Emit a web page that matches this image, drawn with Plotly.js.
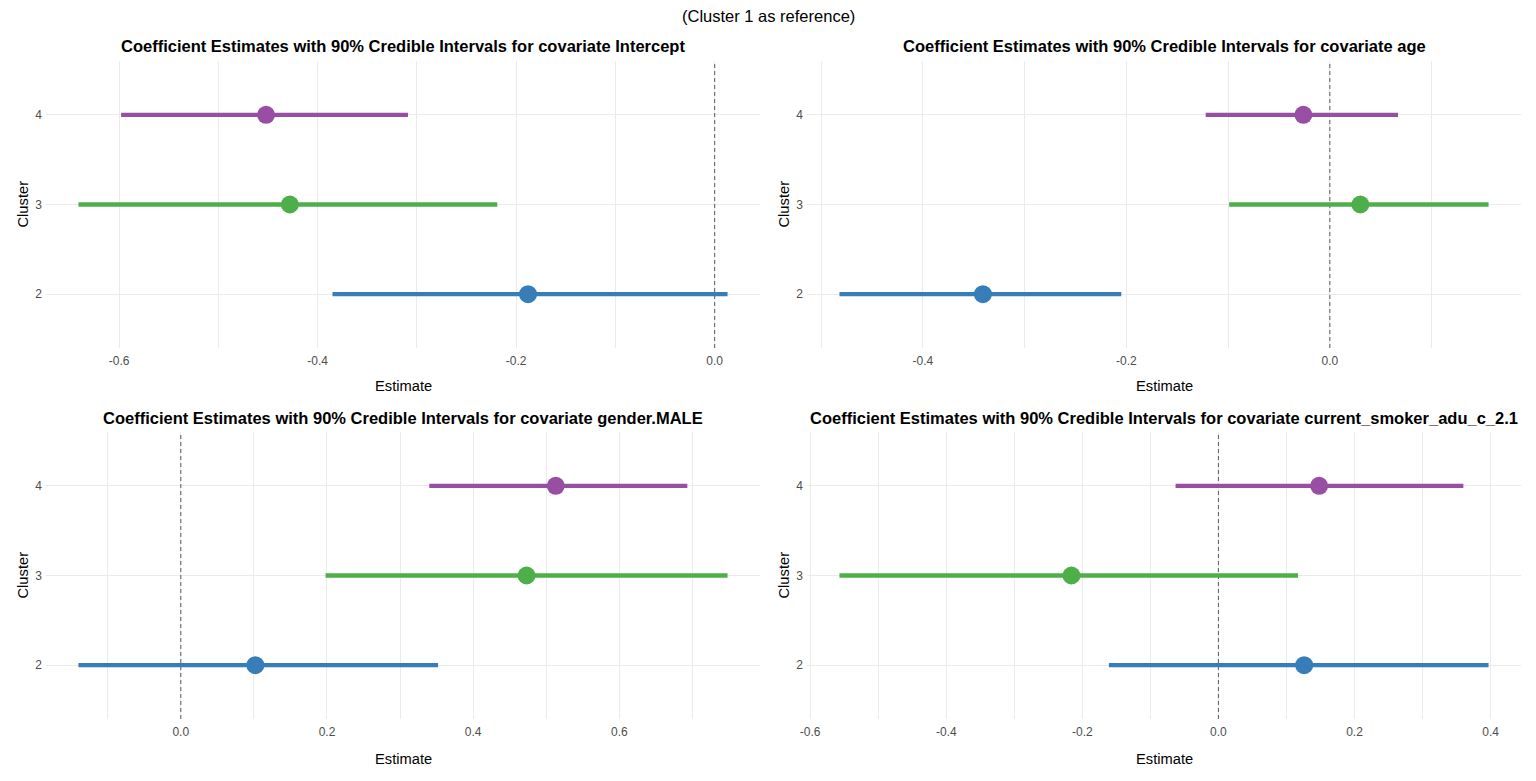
<!DOCTYPE html>
<html>
<head>
<meta charset="utf-8">
<script src="https://cdn.plot.ly/plotly-3.0.1.min.js"></script>
<style>html,body{margin:0;padding:0;background:#fff}#chart{width:1536px;height:781px}</style>
</head>
<body>
<div id="chart"></div>
<script>
// ---- data ----
const clusters = [2, 3, 4];
const clusterColors = ['#377EB8', '#4DAF4A', '#984EA3'];
const covariates = ['Intercept', 'age', 'gender.MALE', 'current_smoker_adu_c_2.1'];

const estIntercept = [-0.188, -0.428, -0.452];
const loIntercept  = [-0.385, -0.641, -0.598];
const hiIntercept  = [ 0.013, -0.219, -0.309];

const estAge = [-0.341, 0.030, -0.026];
const loAge  = [-0.482, -0.099, -0.122];
const hiAge  = [-0.205, 0.156, 0.067];

const estGender = [0.102, 0.473, 0.513];
const loGender  = [-0.140, 0.198, 0.340];
const hiGender  = [0.352, 0.748, 0.693];

const estSmoker = [0.126, -0.216, 0.148];
const loSmoker  = [-0.161, -0.557, -0.063];
const hiSmoker  = [0.397, 0.117, 0.360];

const referenceValue = 0;

const panels = [
  {est: estIntercept, lo: loIntercept, hi: hiIntercept},
  {est: estAge, lo: loAge, hi: hiAge},
  {est: estGender, lo: loGender, hi: hiGender},
  {est: estSmoker, lo: loSmoker, hi: hiSmoker}
];

// ---- layout geometry ----
const W = 1536, H = 781;
const xDomains = [[46/W, 760/W], [807/W, 1521/W], [46/W, 760/W], [807/W, 1521/W]];
const yDomains = [[1-348/H, 1-61/H], [1-348/H, 1-61/H], [1-719/H, 1-432/H], [1-719/H, 1-432/H]];
const yRange = [Math.min(...clusters) - 0.6, Math.max(...clusters) + 0.6];
const FONT = 'Liberation Sans, Arial, sans-serif';
const GRID = '#EBEBEB';

const traces = [];
const layout = {
  width: W, height: H,
  margin: {l: 0, r: 0, t: 0, b: 0},
  paper_bgcolor: '#fff', plot_bgcolor: '#fff',
  showlegend: false,
  font: {family: FONT, color: '#000'},
  annotations: []
};

panels.forEach((p, i) => {
  const n = i + 1;
  const xa = n === 1 ? 'x' : 'x' + n;
  const ya = n === 1 ? 'y' : 'y' + n;
  const xk = n === 1 ? 'xaxis' : 'xaxis' + n;
  const yk = n === 1 ? 'yaxis' : 'yaxis' + n;

  // ggplot-like 5% expansion of the data range (including the reference line)
  const mn = Math.min(referenceValue, ...p.lo), mx = Math.max(referenceValue, ...p.hi);
  const pad = (mx - mn) * 0.05;
  const r0 = mn - pad, r1 = mx + pad;

  // major ticks every 0.2 inside the range, labelled with a plain hyphen
  const tv = [];
  for (let k = Math.ceil(r0 / 0.2 - 1e-9); k * 0.2 <= r1 + 1e-9; k++) tv.push(+(k * 0.2).toFixed(1));
  const tt = tv.map(v => (v < 0 ? '-' : '') + Math.abs(v).toFixed(1));

  // dashed reference line at zero (drawn first, under the intervals)
  traces.push({
    type: 'scatter', mode: 'lines', xaxis: xa, yaxis: ya,
    x: [referenceValue, referenceValue], y: yRange,
    line: {color: '#666666', width: 1.1, dash: '4px,3px'}, hoverinfo: 'skip'
  });

  clusters.forEach((c, j) => {
    traces.push({
      type: 'scatter', mode: 'lines', xaxis: xa, yaxis: ya,
      x: [p.lo[j], p.hi[j]], y: [c, c],
      line: {color: clusterColors[j], width: 4.3}, hoverinfo: 'skip'
    });
  });
  traces.push({
    type: 'scatter', mode: 'markers', xaxis: xa, yaxis: ya,
    x: p.est, y: clusters,
    marker: {color: clusterColors, size: 18, line: {width: 0}}
  });

  layout[xk] = {
    domain: xDomains[i], anchor: ya, range: [r0, r1],
    tickmode: 'array', tickvals: tv, ticktext: tt,
    showgrid: true, gridcolor: GRID, gridwidth: 1,
    minor: {tickmode: 'linear', dtick: 0.1, tick0: 0, showgrid: true, gridcolor: GRID, gridwidth: 1},
    zeroline: false, showline: false, ticks: '', ticklabelstandoff: 4,
    tickfont: {family: FONT, size: 12, color: '#4D4D4D'}
  };
  layout[yk] = {
    domain: yDomains[i], anchor: xa, range: yRange,
    tickmode: 'array', tickvals: clusters, ticktext: clusters.map(String),
    showgrid: true, gridcolor: GRID, gridwidth: 1,
    zeroline: false, showline: false, ticks: '', ticklabelstandoff: 3,
    tickfont: {family: FONT, size: 12, color: '#4D4D4D'}
  };

  const xc = (xDomains[i][0] + xDomains[i][1]) / 2;
  const top = i < 2 ? 46 : 418;
  layout.annotations.push({
    xref: 'paper', yref: 'paper', x: xc, y: 1 - top / H, xanchor: 'center', yanchor: 'middle',
    text: '<b>Coefficient Estimates with 90% Credible Intervals for covariate ' + covariates[i] + '</b>',
    showarrow: false, font: {family: FONT, size: 16.5, color: '#000'}
  });
  const xt = i < 2 ? 386 : 759;
  layout.annotations.push({
    xref: 'paper', yref: 'paper', x: xc, y: 1 - xt / H, xanchor: 'center', yanchor: 'middle',
    text: 'Estimate', showarrow: false, font: {family: FONT, size: 14.7, color: '#000'}
  });
  const yc = (yDomains[i][0] + yDomains[i][1]) / 2;
  layout.annotations.push({
    xref: 'paper', yref: 'paper', x: (i % 2 === 0 ? 22 : 783) / W, y: yc, xanchor: 'center', yanchor: 'middle',
    text: 'Cluster', textangle: -90, showarrow: false, font: {family: FONT, size: 14.7, color: '#000'}
  });
});

layout.annotations.push({
  xref: 'paper', yref: 'paper', x: 0.5, y: 1 - 16 / H, xanchor: 'center', yanchor: 'middle',
  text: '(Cluster 1 as reference)', showarrow: false, font: {family: FONT, size: 16.5, color: '#000'}
});

Plotly.newPlot('chart', traces, layout, {displayModeBar: false, staticPlot: true});
</script>
</body>
</html>
